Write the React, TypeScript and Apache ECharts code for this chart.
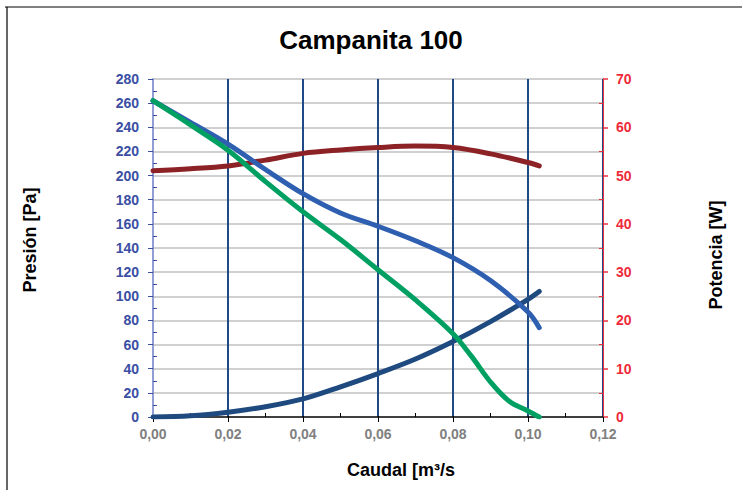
import React, { useEffect, useRef } from "react";
import * as echarts from "echarts";

const titleText = "Campanita 100";
const yLeftName = "Presión [Pa]";
const yRightName = "Potencia [W]";
const xName = "Caudal [m³/s";

const flow = [0, 0.01, 0.02, 0.03, 0.04, 0.05, 0.06, 0.07, 0.08, 0.09, 0.1, 0.103];
const flowGreen = [0, 0.01, 0.02, 0.03, 0.04, 0.05, 0.06, 0.07, 0.08, 0.085, 0.09, 0.095, 0.1, 0.103];

const pressureGreen = [262, 242, 221, 195, 170, 147, 122, 97, 69, 50, 29, 13, 5, 0];
const pressureBlue = [262, 244, 226, 205, 185, 169, 158, 146, 132, 113, 87, 74];
const systemCurve = [0, 1, 4, 8.5, 15, 25, 36, 48, 62.5, 79, 97.5, 104];
const power = [51.0, 51.4, 52.0, 53.2, 54.6, 55.3, 55.8, 56.1, 55.8, 54.5, 52.7, 52.0];

const zip = (xs: number[], ys: number[]) => xs.map((x, i) => [x, ys[i]]);

export default function App() {
  const ref = useRef<HTMLDivElement>(null);
  useEffect(() => {
    if (!ref.current) return;
    const chart = echarts.init(ref.current, undefined, { renderer: "svg" });
    const font = "Liberation Sans, Arial, sans-serif";
    const lineSeries = (data: number[][], color: string, yAxisIndex: number) => ({
      type: "line",
      yAxisIndex,
      data,
      smooth: 0.35,
      showSymbol: false,
      lineStyle: { color, width: 5, cap: "round", join: "round" },
    });
    chart.setOption({
      animation: false,
      backgroundColor: "#ffffff",
      title: {
        text: titleText,
        left: "center",
        top: 22,
        textStyle: { fontFamily: font, fontSize: 26, fontWeight: "bold", color: "#000" },
      },
      grid: { left: 153, right: 139, top: 79, bottom: 73 },
      xAxis: {
        type: "value",
        min: 0,
        max: 0.12,
        interval: 0.02,
        axisLine: { show: true, onZero: false, lineStyle: { color: "#000", width: 1.5 } },
        axisTick: { show: true, length: 5, lineStyle: { color: "#000", width: 1 } },
        minorTick: { show: true, splitNumber: 2, length: -4, lineStyle: { color: "#000", width: 1 } },
        axisLabel: {
          margin: 10,
          color: "#808080",
          fontFamily: font,
          fontSize: 14,
          fontWeight: "bold",
          formatter: (v: number) => v.toFixed(2).replace(".", ","),
        },
        splitLine: { show: true, showMinLine: false, lineStyle: { color: "#1f4a85", width: 2 } },
      },
      yAxis: [
        {
          type: "value",
          min: 0,
          max: 280,
          interval: 20,
          axisLine: { show: true, lineStyle: { color: "#6c7ec9", width: 1.5 } },
          axisTick: { show: true, length: 5, lineStyle: { color: "#3b4fa0", width: 1 } },
          minorTick: { show: true, splitNumber: 2, length: -4, lineStyle: { color: "#3b4fa0", width: 1 } },
          axisLabel: {
            margin: 14,
            color: "#3a4ea3",
            fontFamily: font,
            fontSize: 14,
            fontWeight: "bold",
          },
          splitLine: { show: true, showMinLine: false, lineStyle: { color: "#c0c0c0", width: 1.5 } },
        },
        {
          type: "value",
          min: 0,
          max: 70,
          interval: 10,
          position: "right",
          axisLine: { show: true, lineStyle: { color: "#e8303f", width: 1 } },
          axisTick: { show: true, length: 5, lineStyle: { color: "#e8303f", width: 1.5 } },
          minorTick: { show: true, splitNumber: 2, length: -4, lineStyle: { color: "#e8303f", width: 1 } },
          axisLabel: {
            margin: 13,
            color: "#ee2a3a",
            fontFamily: font,
            fontSize: 14,
            fontWeight: "bold",
          },
          splitLine: { show: false },
        },
      ],
      series: [
        lineSeries(zip(flow, power), "#8c2226", 1),
        lineSeries(zip(flow, systemCurve), "#1f4a80", 0),
        lineSeries(zip(flow, pressureBlue), "#2f5fb0", 0),
        lineSeries(zip(flowGreen, pressureGreen), "#00a062", 0),
      ],
      graphic: [
        { type: "line", shape: { x1: 5, y1: 7, x2: 742, y2: 7 }, style: { stroke: "#808080", lineWidth: 2 } },
        { type: "line", shape: { x1: 7, y1: 7, x2: 7, y2: 490 }, style: { stroke: "#000", lineWidth: 1.2 } },
        {
          type: "text",
          x: 30,
          y: 240,
          rotation: Math.PI / 2,
          style: {
            text: yLeftName,
            fontFamily: font,
            fontSize: 18,
            fontWeight: "bold",
            fill: "#000",
            textAlign: "center",
            textVerticalAlign: "middle",
          },
        },
        {
          type: "text",
          x: 716,
          y: 255,
          rotation: Math.PI / 2,
          style: {
            text: yRightName,
            fontFamily: font,
            fontSize: 18,
            fontWeight: "bold",
            fill: "#000",
            textAlign: "center",
            textVerticalAlign: "middle",
          },
        },
        {
          type: "text",
          x: 401,
          y: 470,
          style: {
            text: xName,
            fontFamily: font,
            fontSize: 18,
            fontWeight: "bold",
            fill: "#000",
            textAlign: "center",
            textVerticalAlign: "middle",
          },
        },
      ],
    });
    return () => chart.dispose();
  }, []);
  return (
    <div
      ref={ref}
      style={{ position: "absolute", left: 0, top: 0, width: 742, height: 490, background: "#fff" }}
    />
  );
}
